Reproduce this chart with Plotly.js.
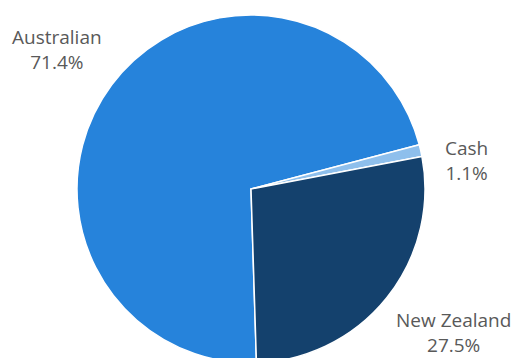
<!DOCTYPE html>
<html>
<head>
<meta charset="utf-8">
<script src="https://cdn.plot.ly/plotly-3.0.1.min.js"></script>
<style>
html,body{margin:0;padding:0;overflow:hidden;background:#fff;width:514px;height:358px;}
#chart{width:514px;height:370px;}
</style>
</head>
<body>
<div id="chart"></div>
<script>
// Data
const categories = ["Australian", "Cash", "New Zealand"];
const shares = [71.4, 1.1, 27.5];
const sliceColors = ["#2683DB", "#8EBFEC", "#14416D"];

// Label placement (paper coords of a 514x370 canvas), kept separate from data
const labelPos = [
  {x: 57 / 514, y: (370 - 50) / 370},
  {x: 466 / 514, y: (370 - 160) / 370},
  {x: 453 / 514, y: (370 - 332) / 370}
];

const W = 514, H = 370, R = 174, CX = 251, CY = 189;

const trace = {
  type: "pie",
  labels: categories,
  values: shares,
  sort: false,
  direction: "clockwise",
  rotation: 178.2,
  marker: {colors: sliceColors, line: {color: "#ffffff", width: 1.5}},
  textinfo: "none",
  hoverinfo: "label+percent",
  showlegend: false,
  domain: {
    x: [(CX - R) / W, (CX + R) / W],
    y: [(H - CY - R) / H, (H - CY + R) / H]
  }
};

const annotations = categories.map((c, i) => ({
  xref: "paper", yref: "paper",
  x: labelPos[i].x, y: labelPos[i].y,
  xanchor: "center", yanchor: "middle",
  showarrow: false,
  align: "center",
  text: c + "<br>" + shares[i].toFixed(1) + "%",
  font: {family: "Open Sans, sans-serif", size: 19, color: "#595959"}
}));

const layout = {
  width: W, height: H,
  margin: {l: 0, r: 0, t: 0, b: 0},
  paper_bgcolor: "#ffffff",
  showlegend: false,
  annotations: annotations
};

Plotly.newPlot("chart", [trace], layout, {displayModeBar: false, staticPlot: true});
</script>
</body>
</html>
